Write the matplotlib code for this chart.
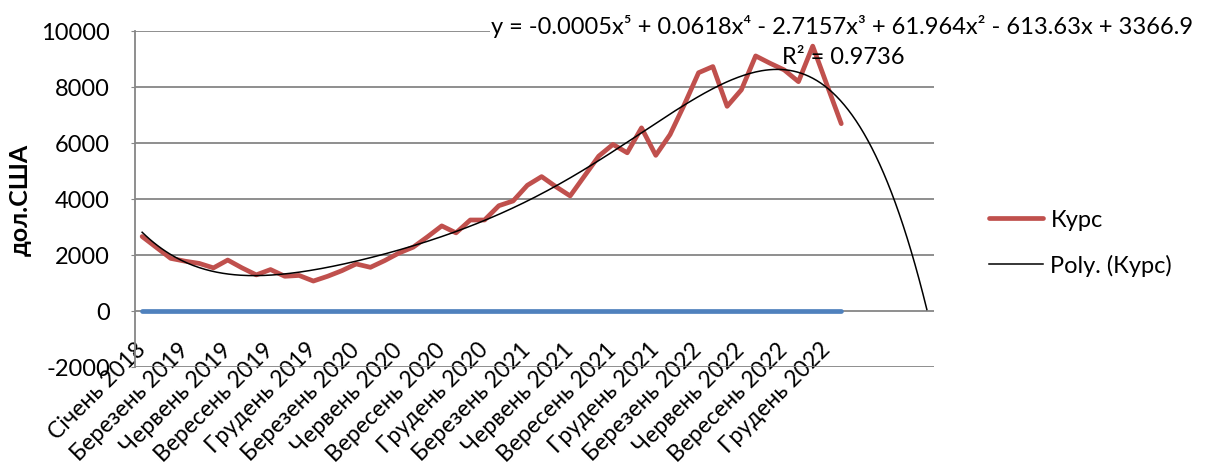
import numpy as np
import matplotlib
matplotlib.use("Agg")
import matplotlib.pyplot as plt
from matplotlib import font_manager
from matplotlib.ft2font import FT2Font
from matplotlib.lines import Line2D

# pick Lato if it has cyrillic, otherwise Open Sans
main_font = "Open Sans"
try:
    p = font_manager.findfont("Lato", fallback_to_default=False)
    if 0x041A in FT2Font(p).get_charmap():
        main_font = "Lato"
except Exception:
    pass
plt.rcParams["font.family"] = [main_font, "DejaVu Sans"]
plt.rcParams["axes.unicode_minus"] = False

# курс, дол.США
kurs = [2660, 2270, 1880, 1780, 1700, 1540, 1820, 1540, 1290, 1480,
        1240, 1270, 1070, 1240, 1440, 1680, 1560, 1800, 2070, 2280,
        2650, 3040, 2790, 3250, 3250, 3760, 3930, 4490, 4800, 4440,
        4110, 4820, 5530, 5950, 5650, 6540, 5560, 6300, 7370, 8510,
        8730, 7310, 7900, 9110, 8850, 8610, 8190, 9460, 8070, 6690]
zero_line = [0] * len(kurs)

tick_labels = ["Січень 2018", "Березень 2019", "Червень 2019", "Вересень 2019",
               "Грудень 2019", "Березень 2020", "Червень 2020", "Вересень 2020",
               "Грудень 2020", "Березень 2021", "Червень 2021", "Вересень 2021",
               "Грудень 2021", "Березень 2022", "Червень 2022", "Вересень 2022",
               "Грудень 2022"]
label_step = 3
forecast = 6

eq_text = ("y = -0.0005x\u2075 + 0.0618x\u2074 - 2.7157x\u00b3 + 61.964x\u00b2"
           " - 613.63x + 3366.9")
r2_text = "R\u00b2 = 0.9736"

red = "#C0504D"
blue = "#4F81BD"
grid = "#868686"
fs = 17

fig = plt.figure(figsize=(12.08, 4.64), dpi=100)
ax = fig.add_axes([135 / 1208, 1 - 368 / 464, 799 / 1208, 336 / 464])

# category axis crosses at 0 (set before tick labels, it resets ticks)
ax.spines["bottom"].set_position(("data", 0))
ax.spines["bottom"].set_visible(False)
ax.spines["top"].set_visible(False)
ax.spines["right"].set_visible(False)
ax.spines["left"].set_color(grid)
ax.spines["left"].set_linewidth(1.3)

idx = np.arange(len(kurs))
ax.plot(idx, zero_line, color=blue, lw=3.4, solid_capstyle="round", zorder=3)
ax.plot(idx, kurs, color=red, lw=3.4, solid_capstyle="round", zorder=4)

# polynomial trendline, 5th order, like excel (x = 1..n) + forecast
xx = idx + 1
coef = np.polyfit(xx, kurs, 5)
xs = np.linspace(1, len(kurs) + forecast, 400)
ax.plot(xs - 1, np.polyval(coef, xs), color="black", lw=1.1, zorder=5)

ax.set_xlim(-0.5, len(kurs) + forecast - 0.5)
ax.set_ylim(-2000, 10000)
ax.set_yticks(np.arange(-2000, 10001, 2000))
ax.yaxis.grid(True, color=grid, lw=1.3)
ax.set_axisbelow(True)

ax.set_xticks(idx[::label_step])
ax.set_xticklabels(tick_labels, rotation=45, ha="right", va="center",
                   rotation_mode="anchor", fontsize=16.5)
ax.tick_params(axis="x", length=0, pad=25)
ax.tick_params(axis="y", length=3, color=grid, pad=15, labelsize=fs)

ax.set_ylabel("дол.США", fontsize=18, fontweight="bold")
ax.yaxis.set_label_coords(-0.129, 0.5)

fig.text(842 / 1208, 1 - 27 / 464, eq_text, ha="center", va="center", fontsize=fs,
         bbox=dict(facecolor="white", edgecolor="none", pad=1))
fig.text(843 / 1208, 1 - 58 / 464, r2_text, ha="center", va="center", fontsize=fs)

handles = [Line2D([], [], color=red, lw=3.4, solid_capstyle="round"),
           Line2D([], [], color="black", lw=1.1)]
fig.legend(handles, ["Курс", "Poly. (Курс)"], loc="center left",
           bbox_to_anchor=(989 / 1208, 1 - 243.5 / 464), frameon=False,
           fontsize=fs, handlelength=2.3, handletextpad=0.3, labelspacing=1.0,
           borderpad=0, borderaxespad=0)

fig.savefig("out.png", dpi=100)
